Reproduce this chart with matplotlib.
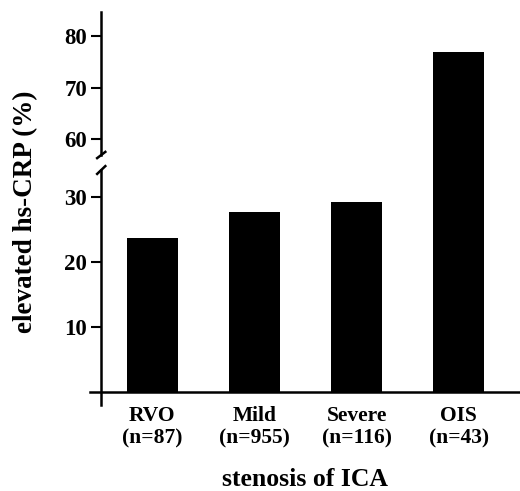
import numpy as np
import matplotlib.pyplot as plt

groups = ['RVO\n(n=87)', 'Mild\n(n=955)', 'Severe\n(n=116)', 'OIS\n(n=43)']
values = [23.8, 27.7, 29.2, 76.9]
low_ticks = [10, 20, 30]
high_ticks = [60, 70, 80]

plt.rcParams['font.family'] = 'Liberation Serif'
plt.rcParams['font.weight'] = 'bold'

W, H = 520, 491
fig = plt.figure(figsize=(W / 100, H / 100), dpi=100)

# axes boxes in pixels (left, top, right, bottom)
def box(l, t, r, b):
    return [l / W, 1 - b / H, (r - l) / W, (b - t) / H]

ax_lo = fig.add_axes(box(90, 170, 520, 405))
ax_hi = fig.add_axes(box(90, 12, 520, 155))

x = np.arange(len(groups))
lw = 1.8
lo_top = 34.2
gap = 15 / 6.5  # break gap expressed in lower-axis units

for ax in (ax_lo, ax_hi):
    ax.bar(x, values, width=0.5, color='black')
    ax.set_xlim(-0.61, 3.6)
    ax.spines['top'].set_visible(False)
    ax.spines['right'].set_visible(False)
    ax.spines['left'].set_position(('data', -0.5))
    ax.spines['left'].set_linewidth(lw)
    ax.tick_params(axis='y', direction='out', length=7, width=1.5, labelsize=16.5, pad=3)
    ax.set_facecolor('none')

# bars taller than the lower range run through the break
tall = [i for i, v in enumerate(values) if v > lo_top]
ax_lo.bar(x[tall], [gap + 0.5] * len(tall), bottom=lo_top - 0.2, width=0.5,
          color='black', clip_on=False)

ax_lo.set_ylim(-2, lo_top)
ax_lo.set_yticks(low_ticks)
ax_lo.spines['bottom'].set_position(('data', 0))
ax_lo.spines['bottom'].set_linewidth(lw)
ax_lo.set_xticks(x)
ax_lo.set_xticklabels(groups, fontsize=15.5, linespacing=1.2)
ax_lo.tick_params(axis='x', length=0, pad=10)
ax_lo.set_xlabel('stenosis of ICA', fontsize=18.5, fontweight='bold', labelpad=14)

ax_hi.set_ylim(57, 84.6)
ax_hi.set_yticks(high_ticks)
ax_hi.spines['bottom'].set_visible(False)
ax_hi.set_xticks([])

fig.text(0.05, 0.568, 'elevated hs-CRP (%)', rotation=90, fontsize=19.5,
         fontweight='bold', ha='center', va='center')

# break marks on the y axis
d = 0.04
ax_hi.plot([-0.5 - d, -0.5 + d], [57 - 0.6, 57 + 0.6], color='black', lw=lw, clip_on=False)
ax_lo.plot([-0.5 - d, -0.5 + d], [lo_top - 0.6, lo_top + 0.6], color='black', lw=lw, clip_on=False)

fig.savefig('out.png', dpi=100)
